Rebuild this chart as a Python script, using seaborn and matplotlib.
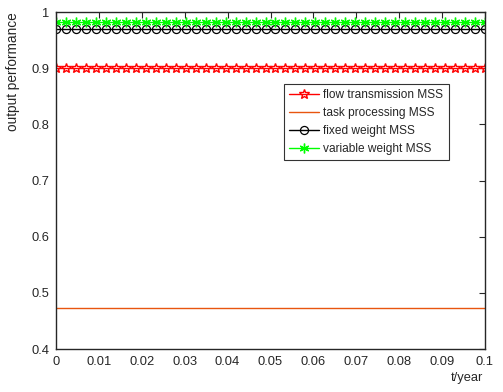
import matplotlib
matplotlib.use("Agg")
import matplotlib.pyplot as plt
import seaborn as sns
import pandas as pd
import numpy as np

# time axis (years) and the constant performance levels of each MSS
t = np.linspace(0, 0.1, 44)
flow_level = 0.9
task_level = 0.473
fixed_level = 0.969
variable_level = 0.982

series_names = ["flow transmission MSS", "task processing MSS",
                "fixed weight MSS", "variable weight MSS"]
series_levels = [flow_level, task_level, fixed_level, variable_level]

df = pd.DataFrame({
    "t": np.tile(t, len(series_names)),
    "value": np.repeat(series_levels, len(t)),
    "series": np.repeat(series_names, len(t)),
})

sns.set_style("white")
plt.rcParams["font.family"] = ["Liberation Sans", "DejaVu Sans"]

fig = plt.figure(figsize=(5.03, 3.92), dpi=100)
ax = fig.add_axes([56 / 503, 1 - 349 / 392, 429 / 503, 337 / 392])

styles = {
    "flow transmission MSS": dict(color="#ff0000", marker="*", markerfacecolor="none",
                                  markeredgecolor="#ff0000", markersize=7,
                                  markeredgewidth=1.0),
    "task processing MSS": dict(color="#e8550f"),
    "fixed weight MSS": dict(color="black", marker="o", markerfacecolor="none",
                             markeredgecolor="black", markersize=5.8,
                             markeredgewidth=0.9),
    "variable weight MSS": dict(color="#00ff00", marker=(6, 2, 0),
                                markeredgecolor="#00ff00", markersize=7,
                                markeredgewidth=1.0),
}

for name in series_names:
    sub = df[df["series"] == name]
    sns.lineplot(data=sub, x="t", y="value", ax=ax, linewidth=1.0,
                 linestyle="-", label=name, **styles[name])

ax.set_xlim(0, 0.1)
ax.set_ylim(0.4, 1.0)
ax.set_xticks(np.arange(0, 0.1001, 0.01))
ax.set_xticklabels(["0", "0.01", "0.02", "0.03", "0.04", "0.05", "0.06",
                    "0.07", "0.08", "0.09", "0.1"])
ax.set_yticks(np.arange(0.4, 1.0001, 0.1))
ax.set_yticklabels(["0.4", "0.5", "0.6", "0.7", "0.8", "0.9", "1"])
ax.tick_params(direction="in", length=4, width=0.8, labelsize=9.3, pad=5,
               top=True, right=True, colors="#262626", labelcolor="#262626")
for s in ax.spines.values():
    s.set_color("#262626")
    s.set_linewidth(1.0)

ax.set_ylabel("output performance", fontsize=9.8, color="#262626")
ax.yaxis.set_label_coords(-0.084, 0.822)
ax.set_xlabel("")
fig.text(467 / 503, 1 - 378 / 392, "t/year", fontsize=9.3, color="#262626",
         ha="center", va="center")

handles, labels = ax.get_legend_handles_labels()
leg = ax.legend(handles[:4], labels[:4], loc="upper left",
                bbox_to_anchor=(0.531, 0.786), borderaxespad=0, fontsize=8.6,
                frameon=True, fancybox=False, edgecolor="black",
                handlelength=2.5, borderpad=0.45, labelspacing=0.48,
                handletextpad=0.35)
leg.get_frame().set_linewidth(0.8)

fig.savefig("out.png", dpi=100)
